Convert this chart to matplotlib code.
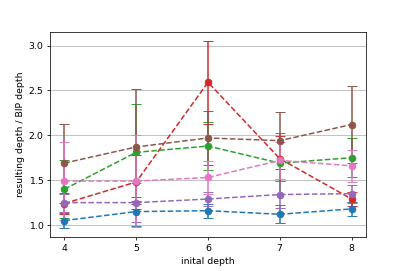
import numpy as np
import matplotlib.pyplot as plt

depths = [4, 5, 6, 7, 8]

blue_mean = [1.05, 1.15, 1.16, 1.12, 1.18]
blue_err = [0.08, 0.16, 0.08, 0.10, 0.08]

green_mean = [1.40, 1.81, 1.88, 1.69, 1.75]
green_err = [0.32, 0.54, 0.27, 0.34, 0.22]

red_mean = [1.24, 1.48, 2.59, 1.74, 1.29]
red_err = [0.12, 0.30, 0.46, 0.25, 0.08]

purple_mean = [1.25, 1.25, 1.29, 1.34, 1.35]
purple_err = [0.10, 0.22, 0.08, 0.15, 0.10]

brown_mean = [1.69, 1.87, 1.97, 1.94, 2.12]
brown_err = [0.44, 0.64, 0.30, 0.32, 0.43]

pink_mean = [1.49, 1.49, 1.53, 1.72, 1.66]
pink_err = [0.43, 0.51, 0.18, 0.21, 0.18]

series = [
    (blue_mean, blue_err, "tab:blue"),
    (green_mean, green_err, "tab:green"),
    (red_mean, red_err, "tab:red"),
    (purple_mean, purple_err, "tab:purple"),
    (brown_mean, brown_err, "tab:brown"),
    (pink_mean, pink_err, "tab:pink"),
]

fig = plt.figure(figsize=(6, 4), dpi=407 / 6)
ax = fig.add_axes([0.123, 0.125, 0.776, 0.757])

for means, errs, color in series:
    ax.errorbar(depths, means, yerr=errs, fmt='o--', color=color,
                capsize=5, markersize=7, linewidth=1.6)

ax.set_xticks(depths)
ax.set_xlabel("inital depth")
ax.set_ylabel("resulting depth / BIP depth")
ax.grid(axis='y')

fig.savefig("out.png", dpi=407 / 6)
